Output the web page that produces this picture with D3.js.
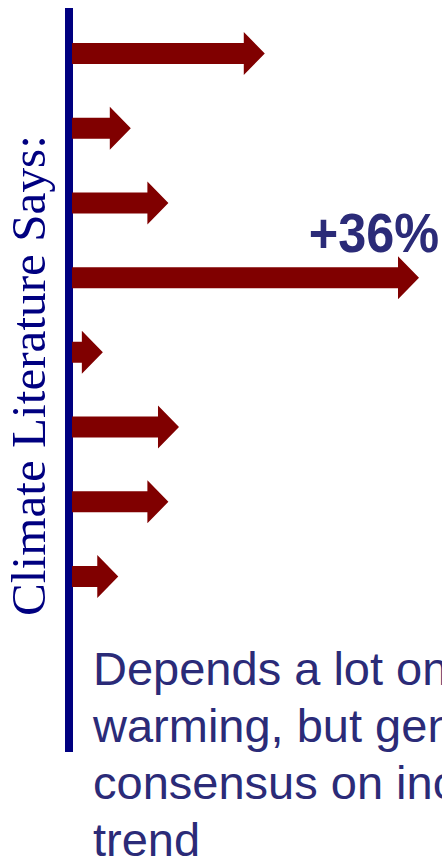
<!DOCTYPE html>
<html>
<head>
<meta charset="utf-8">
<script src="https://cdn.jsdelivr.net/npm/d3@7"></script>
<style>
  html, body { margin: 0; padding: 0; background: #ffffff; overflow: hidden; }
  svg { display: block; }
</style>
</head>
<body>
<svg id="chart" width="442" height="861"></svg>
<script>
// Estimated changes reported by the studies, one arrow each (percent)
const studies = ["Study 1", "Study 2", "Study 3", "Study 4", "Study 5", "Study 6", "Study 7", "Study 8"];
const changes = [20, 6.1, 10, 36, 3.2, 11.1, 10, 4.8];
const highlightLabels = ["", "", "", "+36%", "", "", "", ""];
const axisTitle = "Climate Literature Says:";
const noteLines = ["Depends a lot on", "warming, but general", "consensus on increasing", "trend"];

const svg = d3.select("#chart");

const x = d3.scaleLinear().domain([0, 36]).range([72, 419]);
const y = d3.scalePoint().domain(studies).range([53.5, 576.5]);

const maroon = "#800000";
const navy = "#000080";
const ink = "#2b2b78";

// Vertical baseline axis
svg.append("rect")
  .attr("x", 65).attr("y", 8)
  .attr("width", 8).attr("height", 744)
  .attr("fill", navy);

// Arrow path from the zero line to the value
const shaftHalf = 10.5, headHalf = 21.5, headLen = 21;
function arrowPath(v, cy) {
  const x0 = x(0), x1 = x(v);
  const xb = x1 - headLen;
  return `M${x0},${cy - shaftHalf}L${xb},${cy - shaftHalf}L${xb},${cy - headHalf}` +
         `L${x1},${cy}L${xb},${cy + headHalf}L${xb},${cy + shaftHalf}L${x0},${cy + shaftHalf}Z`;
}

const data = studies.map((s, i) => ({ study: s, value: changes[i], label: highlightLabels[i] }));

svg.append("g")
  .selectAll("path")
  .data(data)
  .join("path")
  .attr("d", d => arrowPath(d.value, y(d.study)))
  .attr("fill", maroon);

// Value callout above the longest arrow
svg.append("g")
  .selectAll("text")
  .data(data.filter(d => d.label))
  .join("text")
  .attr("transform", d => `translate(${x(d.value) + 20},${y(d.study) - 25.5}) scale(0.9,1)`)
  .attr("text-anchor", "end")
  .attr("font-family", "'Liberation Sans', Arial, sans-serif")
  .attr("font-weight", "bold")
  .attr("font-size", 56)
  .attr("fill", ink)
  .text(d => d.label);

// Rotated axis title
svg.append("text")
  .attr("transform", "translate(45,616) rotate(-90)")
  .attr("font-family", "'Liberation Serif', 'Times New Roman', serif")
  .attr("font-size", 49.2)
  .attr("fill", navy)
  .text(axisTitle);

// Explanatory note
svg.append("text")
  .attr("font-family", "'Liberation Sans', Arial, sans-serif")
  .attr("font-size", 47)
  .attr("fill", ink)
  .selectAll("tspan")
  .data(noteLines)
  .join("tspan")
  .attr("x", 93)
  .attr("y", (d, i) => 685 + i * 57)
  .text(d => d);
</script>
</body>
</html>
